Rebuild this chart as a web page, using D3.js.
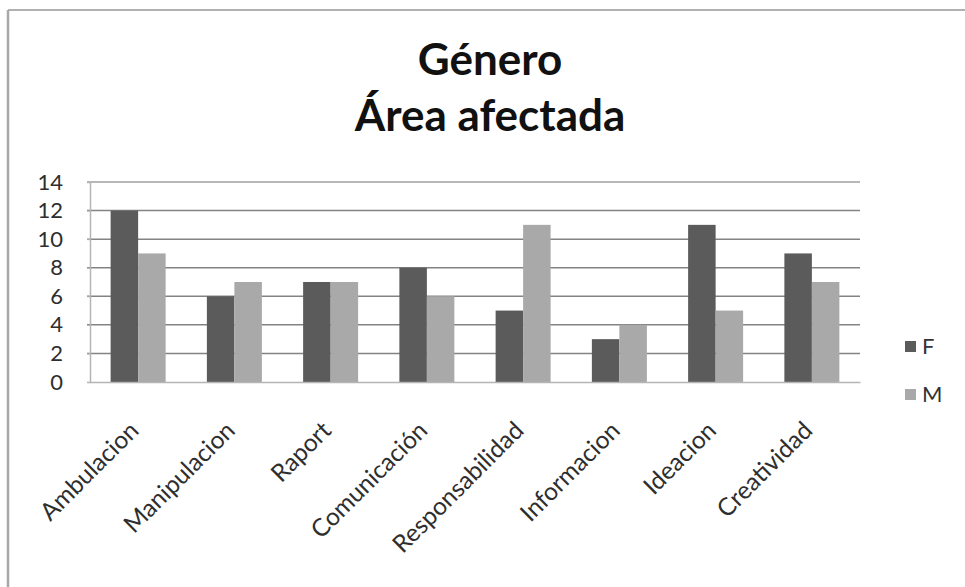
<!DOCTYPE html>
<html>
<head>
<meta charset="utf-8">
<script src="https://cdn.jsdelivr.net/npm/d3@7"></script>
<style>
  html, body { margin: 0; padding: 0; background: #fff; }
  svg { display: block; }
</style>
</head>
<body>
<svg id="chart" width="965" height="587"></svg>
<script>
// Data
const categories = ["Ambulacion", "Manipulacion", "Raport", "Comunicación", "Responsabilidad", "Informacion", "Ideacion", "Creatividad"];
const seriesNames = ["F", "M"];
const valuesF = [12, 6, 7, 8, 5, 3, 11, 9];
const valuesM = [9, 7, 7, 6, 11, 4, 5, 7];
const yTicks = [0, 2, 4, 6, 8, 10, 12, 14];
const titleLines = ["Género", "Área afectada"];

const colors = { F: "#5b5b5b", M: "#a9a9a9" };
const font = "Lato, 'Open Sans', 'Liberation Sans', sans-serif";

const svg = d3.select("#chart");
const W = 965, H = 587;
const plot = { left: 90, right: 860, top: 182, bottom: 382 };

// Outer frame (top and left edges visible)
svg.append("line").attr("x1", 8).attr("x2", W).attr("y1", 10).attr("y2", 10)
  .attr("stroke", "#b0b0b0").attr("stroke-width", 2);
svg.append("line").attr("x1", 8).attr("x2", 8).attr("y1", 10).attr("y2", H)
  .attr("stroke", "#a8a8a8").attr("stroke-width", 2.5);

// Scales
const x0 = d3.scaleBand().domain(categories).range([plot.left, plot.right]).paddingInner(0).paddingOuter(0);
const x1 = d3.scaleBand().domain(seriesNames).range([0, x0.bandwidth()]).paddingInner(0).paddingOuter(0.75);
const y = d3.scaleLinear().domain([0, 14]).range([plot.bottom, plot.top]);

// Gridlines
svg.append("g").selectAll("line").data(yTicks.filter(t => t > 0)).join("line")
  .attr("x1", plot.left - 3).attr("x2", plot.right)
  .attr("y1", d => y(d)).attr("y2", d => y(d))
  .attr("stroke", d => d === 14 ? "#a0a0a0" : "#838383").attr("stroke-width", 1.5);

// Value axis
const yAxis = svg.append("g").attr("transform", `translate(${plot.left},0)`)
  .call(d3.axisLeft(y).tickValues(yTicks).tickSize(3).tickPadding(24).tickFormat(d3.format("d")));
yAxis.select(".domain").attr("stroke", "#b5b5b5").attr("stroke-width", 1.5);
yAxis.selectAll(".tick line").attr("stroke", "#b5b5b5");
yAxis.selectAll("text").attr("fill", "#2e2e2e").style("font-family", font).style("font-size", "22px");

// Bars
const rows = categories.map((c, i) => ({ cat: c, F: valuesF[i], M: valuesM[i] }));
svg.append("g").selectAll("g").data(rows).join("g")
  .attr("transform", d => `translate(${x0(d.cat)},0)`)
  .selectAll("rect").data(d => seriesNames.map(s => ({ s, v: d[s] }))).join("rect")
  .attr("x", d => x1(d.s)).attr("width", x1.bandwidth())
  .attr("y", d => y(d.v)).attr("height", d => y(0) - y(d.v))
  .attr("fill", d => colors[d.s]);

// Category axis
const xAxis = svg.append("g").attr("transform", `translate(0,${plot.bottom})`)
  .call(d3.axisBottom(x0).tickSize(0).tickSizeOuter(0));
xAxis.select(".domain").attr("stroke", "#b5b5b5").attr("stroke-width", 1.5);
xAxis.selectAll("text")
  .attr("fill", "#2e2e2e").style("font-family", font).style("font-size", "24.5px")
  .attr("text-anchor", "end")
  .attr("dy", 0).attr("y", 0)
  .attr("transform", "translate(2,50) rotate(-45)");

// Title
const title = svg.append("g").attr("font-family", font).attr("font-weight", "bold")
  .attr("font-size", "44px").attr("fill", "#111").attr("text-anchor", "middle");
title.selectAll("text").data(titleLines).join("text")
  .attr("x", 490).attr("y", (d, i) => 75 + i * 56).text(d => d);

// Legend
const legend = svg.append("g").selectAll("g").data(seriesNames).join("g")
  .attr("transform", (d, i) => `translate(905,${341 + i * 48})`);
legend.append("rect").attr("width", 11).attr("height", 11).attr("fill", d => colors[d]);
legend.append("text").attr("x", 17).attr("y", 13)
  .attr("font-family", font).attr("font-size", "22px").attr("fill", "#333").text(d => d);
</script>
</body>
</html>
